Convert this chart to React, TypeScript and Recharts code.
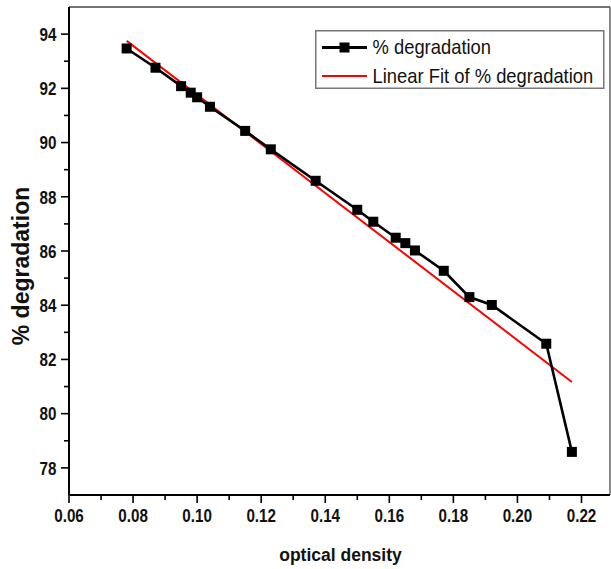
import React from 'react'
import {
  LineChart,
  Line,
  XAxis,
  YAxis,
  Legend,
  ReferenceLine
} from 'recharts'

const odValues = [0.078, 0.087, 0.095, 0.098, 0.1, 0.104, 0.115, 0.123, 0.137, 0.15, 0.155, 0.162, 0.165, 0.168, 0.177, 0.185, 0.192, 0.209, 0.217]
const degradationValues = [93.47, 92.76, 92.08, 91.84, 91.67, 91.32, 90.43, 89.75, 88.59, 87.52, 87.08, 86.49, 86.29, 86.02, 85.27, 84.3, 84.01, 82.58, 78.59]

const fitX = [0.078, 0.217]
const fitY = [93.75, 81.17]

const xTicks = [0.06, 0.07, 0.08, 0.09, 0.1, 0.11, 0.12, 0.13, 0.14, 0.15, 0.16, 0.17, 0.18, 0.19, 0.2, 0.21, 0.22]
const yTicks = [78, 79, 80, 81, 82, 83, 84, 85, 86, 87, 88, 89, 90, 91, 92, 93, 94]

const seriesName = '% degradation'
const fitName = 'Linear Fit of % degradation'

const FONT = "'Liberation Sans', Arial, sans-serif"

const measured = odValues.map((x, i) => ({ x, y: degradationValues[i] }))
const fitted = fitX.map((x, i) => ({ x, y: fitY[i] }))

const XTick = ({ x, y, payload }: any) => {
  const v = payload.value
  const major = Math.round(v * 100) % 2 === 0
  return (
    <g>
      <line x1={x} x2={x} y1={y} y2={y + (major ? 8 : 5)} stroke="#000" strokeWidth={1.6} />
      {major && (
        <g transform={`translate(${x},${y + 26.5})`}>
          <text transform="scale(0.8,1)" textAnchor="middle" fontSize={19} fontWeight="bold" fontFamily={FONT} fill="#111">
            {v.toFixed(2)}
          </text>
        </g>
      )}
    </g>
  )
}

const YTick = ({ x, y, payload }: any) => {
  const v = payload.value
  const major = Math.round(v) % 2 === 0
  return (
    <g>
      <line x1={x} x2={x - (major ? 8 : 5)} y1={y} y2={y} stroke="#000" strokeWidth={1.6} />
      {major && (
        <g transform={`translate(${x - 12.5},${y + 6.8})`}>
          <text transform="scale(0.8,1)" textAnchor="end" fontSize={19} fontWeight="bold" fontFamily={FONT} fill="#111">
            {v}
          </text>
        </g>
      )}
    </g>
  )
}

const Square = ({ cx, cy }: any) => {
  if (cx == null || cy == null) return null
  return <rect x={cx - 5} y={cy - 5} width={10} height={10} fill="#000" />
}

const LegendBox = () => (
  <svg width={290} height={60} style={{ display: 'block' }}>
    <rect x={0.75} y={0.75} width={288} height={57.5} fill="#fff" stroke="#777" strokeWidth={1.5} />
    <line x1={7} x2={52} y1={17.5} y2={17.5} stroke="#000" strokeWidth={3} />
    <rect x={24.5} y={12.5} width={10} height={10} fill="#000" />
    <text x={57.5} y={24.5} fontSize={20} fontFamily={FONT} fill="#111" transform="translate(4.6,0) scale(0.92,1)">
      {seriesName}
    </text>
    <line x1={7} x2={52} y1={46} y2={46} stroke="#ff0000" strokeWidth={2} />
    <text x={57.5} y={53} fontSize={20} fontFamily={FONT} fill="#111" transform="translate(4.6,0) scale(0.92,1)">
      {fitName}
    </text>
  </svg>
)

const XTitle = () => (
  <text x={340.5} y={561} textAnchor="middle" fontSize={17.5} fontWeight="bold" fontFamily={FONT} fill="#111">
    optical density
  </text>
)

const YTitle = () => (
  <text
    transform="translate(29,266) rotate(-90)"
    textAnchor="middle"
    fontSize={23}
    fontWeight="bold"
    fontFamily={FONT}
    fill="#111"
  >
    % degradation
  </text>
)

export default function App() {
  return (
    <div style={{ width: 611, height: 569 }}>
      <style>{`body{margin:0}`}</style>
      <LineChart width={611} height={569} margin={{ top: 7, right: 1, left: 0, bottom: 0 }}>
        <XAxis
          dataKey="x"
          type="number"
          domain={[0.06, 0.2289]}
          allowDataOverflow
          ticks={xTicks}
          interval={0}
          height={74}
          tickSize={0}
          tickMargin={0}
          tickLine={false}
          axisLine={{ stroke: '#000', strokeWidth: 2 }}
          tick={<XTick />}
          label={<XTitle />}
        />
        <YAxis
          dataKey="y"
          type="number"
          domain={[77, 95]}
          allowDataOverflow
          ticks={yTicks}
          interval={0}
          width={69}
          tickSize={0}
          tickMargin={0}
          tickLine={false}
          axisLine={{ stroke: '#000', strokeWidth: 2 }}
          tick={<YTick />}
          label={<YTitle />}
        />
        <ReferenceLine y={95} stroke="#444" strokeWidth={1.5} />
        <ReferenceLine x={0.2289} stroke="#666" strokeWidth={1.5} />
        <Line
          data={fitted}
          dataKey="y"
          name={fitName}
          stroke="#ff0000"
          strokeWidth={2}
          dot={false}
          isAnimationActive={false}
        />
        <Line
          data={measured}
          dataKey="y"
          name={seriesName}
          stroke="#000"
          strokeWidth={2.6}
          dot={<Square />}
          isAnimationActive={false}
        />
        <Legend
          layout="vertical"
          align="center"
          verticalAlign="middle"
          content={<LegendBox />}
          wrapperStyle={{ position: 'absolute', left: 315, top: 30, width: 290, height: 60 }}
        />
      </LineChart>
    </div>
  )
}
